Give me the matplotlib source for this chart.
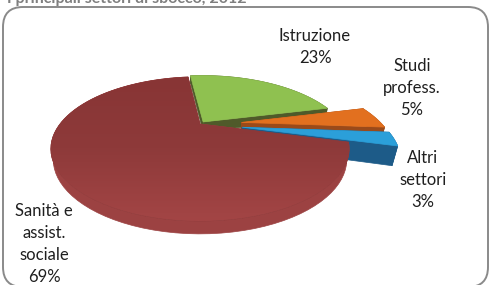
import numpy as np
import matplotlib
matplotlib.use('Agg')
import matplotlib.pyplot as plt
from matplotlib.patches import FancyBboxPatch, Polygon

# data
labels = ['Altri\nsettori', 'Studi\nprofess.', 'Istruzione', 'Sanità e\nassist.\nsociale']
values = [3, 5, 23, 69]
explode = [0.30, 0.30, 0.04, 0.0]
top_colors = ['#2b9fd9', '#e2701f', '#8fc150', '#8e3a3a']
side_colors = ['#1d5b88', '#9a4a1a', '#4f5a2a', '#9c4242']
depths = [0.15, 0.11, 0.08, 0.08]
title = 'I principali settori di sbocco, 2012'

plt.rcParams['font.family'] = ['Lato', 'DejaVu Sans']

# projection set-up (pixel coordinates of the figure)
cx, cy, R = 200, 124, 140
elev = np.radians(27)
D = 2.9 * np.cos(elev)
start = -15.0


def proj(x, y, z):
    up = y * np.sin(elev) + z * np.cos(elev)
    dep = y * np.cos(elev) - z * np.sin(elev)
    k = D / (D + dep)
    return np.column_stack([cx + R * x * k, cy - R * up * k]), dep


fig = plt.figure(figsize=(4.9, 2.85), dpi=100)
ax = fig.add_axes([0, 0, 1, 1])
ax.set_xlim(0, 490)
ax.set_ylim(285, 0)
ax.axis('off')

frame = FancyBboxPatch((3, 7), 485, 280, boxstyle='round,pad=0,rounding_size=20',
                       fc='white', ec='#8a8a8a', lw=1.4, zorder=0)
ax.add_patch(frame)

fracs = np.array(values) / np.sum(values)
bounds = start + 360 * np.concatenate([[0], np.cumsum(fracs)])

sides = []
tops = []
for i in range(len(values)):
    a0, a1 = np.radians(bounds[i]), np.radians(bounds[i + 1])
    mid = (a0 + a1) / 2
    ox, oy = explode[i] * np.cos(mid), explode[i] * np.sin(mid)
    h = depths[i]
    t = np.linspace(a0, a1, 80)
    rx, ry = ox + np.cos(t), oy + np.sin(t)
    # top face
    xs = np.concatenate([[ox], rx])
    ys = np.concatenate([[oy], ry])
    pts, _ = proj(xs, ys, np.zeros_like(xs))
    tops.append((pts, top_colors[i]))
    # outer side
    ptop, dtop = proj(rx, ry, np.zeros_like(rx))
    pbot, _ = proj(rx, ry, -h * np.ones_like(rx))
    sides.append((np.mean(dtop), np.vstack([ptop, pbot[::-1]]), side_colors[i]))
    # radial faces
    for a in (a0, a1):
        fx = np.array([ox, ox + np.cos(a), ox + np.cos(a), ox])
        fy = np.array([oy, oy + np.sin(a), oy + np.sin(a), oy])
        fz = np.array([0, 0, -h, -h])
        p, d = proj(fx, fy, fz)
        sides.append((np.mean(d), p, side_colors[i]))

for d, p, c in sorted(sides, key=lambda s: -s[0]):
    ax.add_patch(Polygon(p, closed=True, fc=c, ec=c, lw=0.5, zorder=2))
for i, (p, c) in enumerate(tops):
    poly = Polygon(p, closed=True, fc=c, ec=c, lw=0.5, zorder=3)
    ax.add_patch(poly)
    if i == len(tops) - 1:
        # soft shading on the big slice
        grad = np.linspace(0, 1, 100).reshape(-1, 1)
        cmap = matplotlib.colors.LinearSegmentedColormap.from_list(
            'red', ['#883535', '#8e3a3a', '#a34545'])
        im = ax.imshow(grad, extent=(p[:, 0].min(), p[:, 0].max(), p[:, 1].max(), p[:, 1].min()),
                       cmap=cmap, aspect='auto', zorder=3.5)
        im.set_clip_path(poly)
ax.set_xlim(0, 490)
ax.set_ylim(285, 0)

# labels
label_pos = [(423, 180), (412, 88), (315, 47), (44, 244)]
for lab, v, (lx, ly) in zip(labels, values, label_pos):
    ax.text(lx, ly, f'{lab}\n{v}%', ha='center', va='center', fontsize=12,
            color='#1f1f1f', linespacing=1.45, zorder=5)

ax.text(7, 2.5, title, ha='left', va='baseline', fontsize=11.5, fontweight='bold',
        color='#7f7f7f', zorder=5)

fig.savefig('out.png', dpi=100)
